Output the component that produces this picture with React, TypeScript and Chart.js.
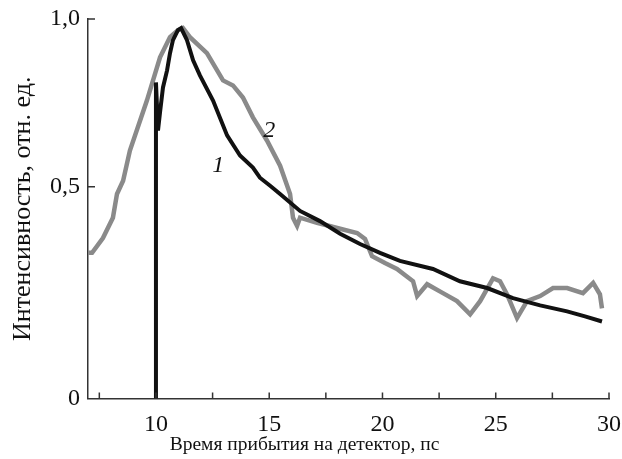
import React, { useEffect, useRef } from "react";
import { Chart, LinearScale, registerables } from "chart.js";

// ---- data ----
const curve1X = [10.0, 10.0, 10.09, 10.18, 10.31, 10.49, 10.62, 10.75, 10.97, 11.11, 11.37, 11.64, 11.94, 12.52, 13.14, 13.71, 14.28, 14.59, 15.04, 15.48, 16.36, 17.24, 18.13, 19.01, 19.89, 20.77, 22.23, 23.42, 24.62, 25.76, 26.96, 28.15, 28.94, 29.69];
const curve1Y = [0.0, 0.811, 0.668, 0.722, 0.796, 0.847, 0.898, 0.937, 0.967, 0.973, 0.937, 0.877, 0.832, 0.757, 0.653, 0.593, 0.557, 0.527, 0.503, 0.483, 0.443, 0.419, 0.389, 0.365, 0.344, 0.325, 0.306, 0.277, 0.261, 0.237, 0.22, 0.206, 0.194, 0.182];

const curve2X = [7.0, 7.18, 7.66, 8.1, 8.28, 8.55, 8.85, 9.6, 10.18, 10.62, 10.97, 11.19, 11.5, 12.25, 12.96, 13.4, 13.84, 14.28, 14.9, 15.48, 15.92, 16.05, 16.23, 16.36, 17.11, 18.13, 18.88, 19.23, 19.54, 20.11, 20.64, 21.35, 21.53, 21.97, 22.67, 23.29, 23.87, 24.31, 24.88, 25.19, 25.5, 25.94, 26.38, 26.96, 27.53, 28.15, 28.85, 29.3, 29.6, 29.69];
const curve2Y = [0.344, 0.344, 0.379, 0.427, 0.483, 0.518, 0.608, 0.757, 0.886, 0.946, 0.967, 0.973, 0.946, 0.898, 0.817, 0.802, 0.766, 0.707, 0.638, 0.563, 0.483, 0.427, 0.408, 0.427, 0.415, 0.401, 0.391, 0.377, 0.336, 0.32, 0.306, 0.277, 0.242, 0.27, 0.249, 0.23, 0.199, 0.23, 0.284, 0.277, 0.246, 0.19, 0.23, 0.242, 0.261, 0.261, 0.249, 0.273, 0.246, 0.213];

const xTicks = [7.5, 10, 12.5, 15, 17.5, 20, 22.5, 25, 27.5, 30];
const yTicks = [0, 0.5, 1.0];
const yTickLabels = ["0", "0,5", "1,0"];

const curveLabels = ["1", "2"];
const curveLabelX = [12.75, 15.0];
const curveLabelY = [0.563, 0.668];

const xTitle = "Время прибытия на детектор, пс";
const yTitle = "Интенсивность, отн. ед.";

// ---- y scale whose lower half (0..0.5) is taller than the upper half, as in the figure ----
const LOWER_FRACTION = 0.558;
class SplitScale extends LinearScale {
  static id = "split";
  static defaults = LinearScale.defaults;
  getPixelForValue(value: number) {
    if (value === null || value === undefined) return NaN;
    const d = value <= 0.5 ? (value / 0.5) * LOWER_FRACTION : LOWER_FRACTION + ((value - 0.5) / 0.5) * (1 - LOWER_FRACTION);
    return this.getPixelForDecimal(d);
  }
  getValueForPixel(pixel: number) {
    const d = this.getDecimalForPixel(pixel);
    return d <= LOWER_FRACTION ? (d / LOWER_FRACTION) * 0.5 : 0.5 + ((d - LOWER_FRACTION) / (1 - LOWER_FRACTION)) * 0.5;
  }
}

Chart.register(...registerables, SplitScale as any);

const SERIF = "'Liberation Serif', 'DejaVu Serif', serif";
const AXIS_COLOR = "#333";

const innerTicks = {
  id: "innerTicks",
  afterDatasetsDraw(chart: any) {
    const ctx = chart.ctx;
    const xs = chart.scales.x;
    const ys = chart.scales.y;
    const a = chart.chartArea;
    ctx.save();
    ctx.strokeStyle = AXIS_COLOR;
    ctx.lineWidth = 1.5;
    ctx.beginPath();
    xTicks.forEach((v) => {
      const px = xs.getPixelForValue(v);
      ctx.moveTo(px, a.bottom);
      ctx.lineTo(px, a.bottom - 6);
    });
    yTicks.forEach((v) => {
      if (v === 0) return;
      const py = ys.getPixelForValue(v);
      ctx.moveTo(a.left, py);
      ctx.lineTo(a.left + 7, py);
    });
    ctx.stroke();
    // curve labels
    ctx.fillStyle = "#111";
    ctx.font = "italic 24px " + SERIF;
    ctx.textAlign = "center";
    ctx.textBaseline = "middle";
    curveLabels.forEach((t, i) => {
      ctx.fillText(t, xs.getPixelForValue(curveLabelX[i]), ys.getPixelForValue(curveLabelY[i]));
    });
    ctx.restore();
  },
};

export default function App() {
  const ref = useRef<HTMLCanvasElement>(null);
  useEffect(() => {
    document.body.style.margin = "0";
    const chart = new Chart(ref.current!, {
      type: "line",
      data: {
        datasets: [
          {
            label: "1",
            data: curve1X.map((x, i) => ({ x, y: curve1Y[i] })),
            borderColor: "#111",
            borderWidth: 4,
            pointRadius: 0,
            tension: 0,
          },
          {
            label: "2",
            data: curve2X.map((x, i) => ({ x, y: curve2Y[i] })),
            borderColor: "#8a8a8a",
            borderWidth: 4.5,
            pointRadius: 0,
            tension: 0,
          },
        ],
      },
      options: {
        responsive: false,
        animation: false,
        layout: { padding: { top: 19, right: 13, left: 0, bottom: 0 } },
        plugins: {
          legend: { display: false },
          tooltip: { enabled: false },
          title: {
            display: true,
            position: "bottom",
            text: xTitle,
            color: "#111",
            font: { family: SERIF, size: 19.5, weight: "normal" },
            padding: { top: 0, bottom: 2 },
          },
        },
        scales: {
          x: {
            type: "linear",
            min: 7,
            max: 30,
            afterBuildTicks: (s: any) => {
              s.ticks = xTicks.map((v) => ({ value: v }));
            },
            afterFit: (s: any) => {
              s.height = 35;
              s.paddingRight = 0;
              s.paddingLeft = 0;
            },
            grid: { display: false, drawTicks: false },
            border: { display: true, color: AXIS_COLOR, width: 1.5 },
            ticks: {
              color: "#111",
              padding: 12,
              maxRotation: 0,
              autoSkip: false,
              font: { family: SERIF, size: 24 },
              callback: (v: any) => (Number(v) % 5 === 0 ? String(v) : ""),
            },
          },
          y: {
            type: "split" as any,
            min: 0,
            max: 1,
            afterBuildTicks: (s: any) => {
              s.ticks = yTicks.map((v) => ({ value: v }));
            },
            afterFit: (s: any) => {
              s.width = 88;
              s.paddingTop = 0;
              s.paddingBottom = 0;
            },
            grid: { display: false, drawTicks: false },
            border: { display: true, color: AXIS_COLOR, width: 1.5 },
            title: {
              display: true,
              text: yTitle,
              color: "#111",
              font: { family: SERIF, size: 26, weight: "normal" },
              padding: { top: 8, bottom: 0 },
            },
            ticks: {
              color: "#111",
              padding: 8,
              autoSkip: false,
              font: { family: SERIF, size: 24 },
              callback: (v: any) => {
                const i = yTicks.indexOf(Number(v));
                return i >= 0 ? yTickLabels[i] : "";
              },
            },
          },
        },
      },
      plugins: [innerTicks],
    });
    return () => chart.destroy();
  }, []);
  return (
    <div style={{ width: 622, height: 459, background: "#fff" }}>
      <canvas ref={ref} width={622} height={459} />
    </div>
  );
}
